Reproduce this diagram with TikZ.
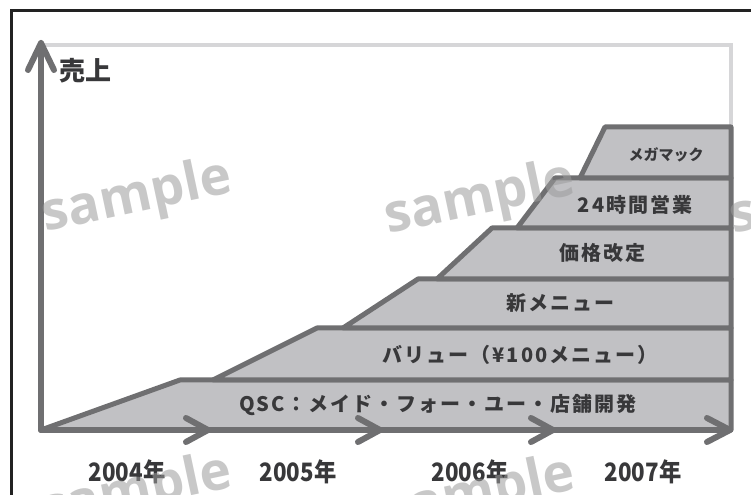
\documentclass[tikz,border=0pt]{standalone}
\usepackage{fontspec}
\newfontfamily\jp{Noto Sans CJK JP}
\newfontfamily\wmfont{Open Sans}
\definecolor{framec}{HTML}{222222}
\definecolor{innerc}{HTML}{D6D6D8}
\definecolor{layerfill}{HTML}{C1C1C4}
\definecolor{linec}{HTML}{6F6F71}
\definecolor{txt}{HTML}{38383A}
\definecolor{wmc}{HTML}{9C9C9C}
\tikzset{
  frameline/.style={draw=framec, line width=2.25pt},
  innerbox/.style={draw=innerc, line width=3pt},
  layer/.style={fill=layerfill, draw=linec, line width=3.75pt, line join=round},
  axisline/.style={draw=linec, line width=4.5pt, line cap=round, line join=round},
  lbl/.style={text=txt, inner sep=0pt, font=\jp\bfseries\fontsize{15}{15}\selectfont\addfontfeature{LetterSpace=10}},
  smalllbl/.style={text=txt, inner sep=0pt, font=\jp\bfseries\fontsize{11.25}{11.25}\selectfont},
  yearlbl/.style={text=txt, inner sep=0pt, xscale=0.88, font=\jp\bfseries\fontsize{19}{19}\selectfont},
  axislbl/.style={text=txt, inner sep=0pt, font=\jp\bfseries\fontsize{19.5}{19.5}\selectfont},
  wmark/.style={text=wmc, opacity=0.55, inner sep=0pt, rotate=12, font=\wmfont\bfseries\fontsize{40}{40}\selectfont}
}
\begin{document}
\begin{tikzpicture}[x=0.75pt, y=-0.75pt]
\clip (0,0) rectangle (751,495);
\fill[white] (0,0) rectangle (751,495);
% outer frame (top and left visible)
\draw[frameline] (11,500) -- (11,11) -- (760,11);
% inner light box
\draw[innerbox] (41,430) -- (41,45) -- (731,45) -- (731,430);
% axis coordinates
\coordinate (O) at (41,430);
\coordinate (Ytip) at (41,43);
\coordinate (Xend) at (730,430);
% layers (bottom to top)
\filldraw[layer] (O) -- (180,380) -- (731,380) -- (731,430) -- cycle;
\filldraw[layer] (213,380) -- (317,328) -- (731,328) -- (731,380) -- cycle;
\filldraw[layer] (343,328) -- (418,279) -- (731,279) -- (731,328) -- cycle;
\filldraw[layer] (437,279) -- (492,228) -- (731,228) -- (731,279) -- cycle;
\filldraw[layer] (517,228) -- (555,178) -- (731,178) -- (731,228) -- cycle;
\filldraw[layer] (580,178) -- (605,127) -- (731,127) -- (731,178) -- cycle;
% axes
\draw[axisline] (O) -- (Ytip);
\draw[axisline] (28,70) -- (Ytip) -- (54,70);
\draw[axisline] (O) -- (Xend);
\coordinate (T1) at (208,430);
\coordinate (T2) at (380,430);
\coordinate (T3) at (553,430);
\draw[axisline] (186,418) -- (T1) -- (186,442);
\draw[axisline] (358,418) -- (T2) -- (358,442);
\draw[axisline] (531,418) -- (T3) -- (531,442);
\draw[axisline] (707,418) -- (Xend) -- (707,442);
% layer labels
\node[lbl] (l1) at (438,405) {QSC：メイド・フォー・ユー・店舗開発};
\node[lbl] (l2) at (520,355) {バリュー（¥100メニュー）};
\node[lbl] (l3) at (560,303) {新メニュー};
\node[lbl] (l4) at (602,253) {価格改定};
\node[lbl] (l5) at (635,205) {24時間営業};
\node[smalllbl] (l6) at (666,155) {メガマック};
% axis label
\node[axislbl] (ylab) at (86,71) {売上};
% years
\node[yearlbl] (y1) at (127,472) {2004年};
\node[yearlbl] (y2) at (298,472) {2005年};
\node[yearlbl] (y3) at (470,472) {2006年};
\node[yearlbl] (y4) at (643,472) {2007年};
% watermarks
\node[wmark] (w1) at (137,198) {sample};
\node[wmark] (w2) at (480,200) {sample};
\node[wmark] (w3) at (825,200) {sample};
\node[wmark] (w4) at (137,493) {sample};
\node[wmark] (w5) at (480,495) {sample};
\end{tikzpicture}
\end{document}
